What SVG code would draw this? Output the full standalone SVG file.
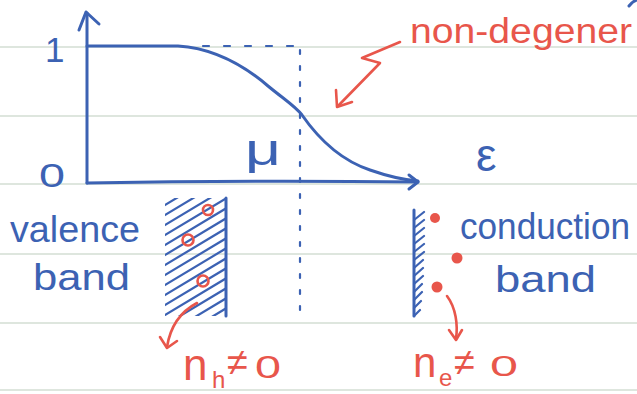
<svg xmlns="http://www.w3.org/2000/svg" width="637" height="394" viewBox="0 0 637 394">
<defs>
<style>
.paper{stroke:#d3ded3;stroke-width:1.5;fill:none}
.blue{stroke:#3c62b3;stroke-width:3;fill:none;stroke-linecap:round;stroke-linejoin:round}
.bthin{stroke:#3c62b3;stroke-width:2.2;fill:none;stroke-linecap:round}
.red{stroke:#e8564b;stroke-width:2.6;fill:none;stroke-linecap:round;stroke-linejoin:round}
.bt{fill:#3c62b3;font-family:"Liberation Sans",Arial,sans-serif}
.rt{fill:#e8564b;font-family:"Liberation Sans",Arial,sans-serif}
</style>
<clipPath id="vclip"><rect x="165" y="198" width="61" height="118"/></clipPath>
</defs>
<rect width="637" height="394" fill="#ffffff"/>
<g id="paper">
<line class="paper" x1="0" y1="47" x2="637" y2="47"/>
<line class="paper" x1="0" y1="116" x2="637" y2="116"/>
<line class="paper" x1="0" y1="184" x2="637" y2="184"/>
<line class="paper" x1="0" y1="254" x2="637" y2="254"/>
<line class="paper" x1="0" y1="323" x2="637" y2="323"/>
<line class="paper" x1="0" y1="390" x2="637" y2="390"/>
</g>
<g id="axes">
<path class="blue" d="M87,183 L87,13"/>
<path class="blue" d="M79,30 L86,12 L99,24"/>
<path class="blue" d="M87,183 Q250,180 418,182"/>
<path class="blue" d="M409,175 L418,182 L409,189"/>
<text class="bt" x="45" y="62" font-size="35">1</text>
<text class="bt" x="39" y="187" font-size="34" textLength="26" lengthAdjust="spacingAndGlyphs">0</text>
<text class="bt" x="245" y="165" font-size="44" textLength="36" lengthAdjust="spacingAndGlyphs">μ</text>
<text class="bt" x="476" y="171" font-size="46">ε</text>
</g>
<g id="fermi-curve">
<path class="blue" d="M87,46 L178,46 C210,48 240,62 268,86 C285,100 295,106 302,115 C318,138 340,160 370,170 C390,177 405,180 418,181"/>
<path class="bthin" stroke-dasharray="6 15" d="M203,46 L296,46"/>
<path class="bthin" stroke-dasharray="4 12" d="M300,50 L300,312"/>
</g>
<g id="valence-band">
<g clip-path="url(#vclip)" class="bthin">
<line x1="160" y1="208" x2="230" y2="166"/>
<line x1="160" y1="218" x2="230" y2="176"/>
<line x1="160" y1="228" x2="230" y2="186"/>
<line x1="160" y1="238" x2="230" y2="196"/>
<line x1="160" y1="248" x2="230" y2="206"/>
<line x1="160" y1="258" x2="230" y2="216"/>
<line x1="160" y1="268" x2="230" y2="226"/>
<line x1="160" y1="278" x2="230" y2="236"/>
<line x1="160" y1="288" x2="230" y2="246"/>
<line x1="160" y1="298" x2="230" y2="256"/>
<line x1="160" y1="308" x2="230" y2="266"/>
<line x1="160" y1="318" x2="230" y2="276"/>
<line x1="160" y1="328" x2="230" y2="286"/>
<line x1="160" y1="338" x2="230" y2="296"/>
<line x1="160" y1="348" x2="230" y2="306"/>
<line x1="160" y1="358" x2="230" y2="316"/>
</g>
<path class="blue" d="M226,198 L226,316"/>
<circle class="red" cx="208" cy="210" r="5"/>
<circle class="red" cx="188" cy="240" r="5.5"/>
<circle class="red" cx="203" cy="281" r="5.5"/>
<text class="bt" x="10" y="242" font-size="37" textLength="130" lengthAdjust="spacingAndGlyphs">valence</text>
<text class="bt" x="33" y="290" font-size="37" textLength="97" lengthAdjust="spacingAndGlyphs">band</text>
</g>
<g id="conduction-band">
<path class="blue" d="M414,210 L414,316"/>
<path class="bthin" d="M414,220 L424,212 M414,228 L424,220 M414,236 L424,228 M414,244 L424,236 M414,252 L424,244 M414,260 L424,252 M414,268 L423,260 M414,276 L423,268 M414,284 L423,276 M414,292 L422,284 M414,300 L422,292 M414,308 L421,301 M414,316 L420,310"/>
<circle cx="435" cy="218" r="5" fill="#e8564b"/>
<circle cx="457" cy="258" r="5.5" fill="#e8564b"/>
<circle cx="437" cy="287" r="5.5" fill="#e8564b"/>
<text class="bt" x="460" y="239" font-size="36" textLength="170" lengthAdjust="spacingAndGlyphs">conduction</text>
<text class="bt" x="495" y="292" font-size="37" textLength="101" lengthAdjust="spacingAndGlyphs">band</text>
</g>
<g id="labels">
<text class="rt" x="410" y="43" font-size="35" textLength="222" lengthAdjust="spacingAndGlyphs">non-degener</text>
<text class="rt" x="183" y="380" font-size="44">n</text>
<text class="rt" x="212" y="388" font-size="24">h</text>
<text class="rt" x="227" y="375" font-size="38">≠</text>
<text class="rt" x="255" y="378" font-size="31" textLength="26" lengthAdjust="spacingAndGlyphs">0</text>
<text class="rt" x="413" y="377" font-size="42">n</text>
<text class="rt" x="439" y="386" font-size="24">e</text>
<text class="rt" x="454" y="375" font-size="38">≠</text>
<text class="rt" x="490" y="376" font-size="29" textLength="28" lengthAdjust="spacingAndGlyphs">0</text>
</g>
<g id="connectors">
<path class="red" d="M400,42 L362,58 L380,63 L338,106"/>
<path class="red" d="M336,90 L337,107 L352,102"/>
<path class="red" d="M197,303 C180,312 170,328 167,347"/>
<path class="red" d="M160,337 L167,348 L177,341"/>
<path class="red" d="M447,296 C456,308 458,325 456,339"/>
<path class="red" d="M449,330 L456,340 L462,330"/>
<path class="blue" d="M629,6 Q633,1 637,0"/>
</g>
</svg>
